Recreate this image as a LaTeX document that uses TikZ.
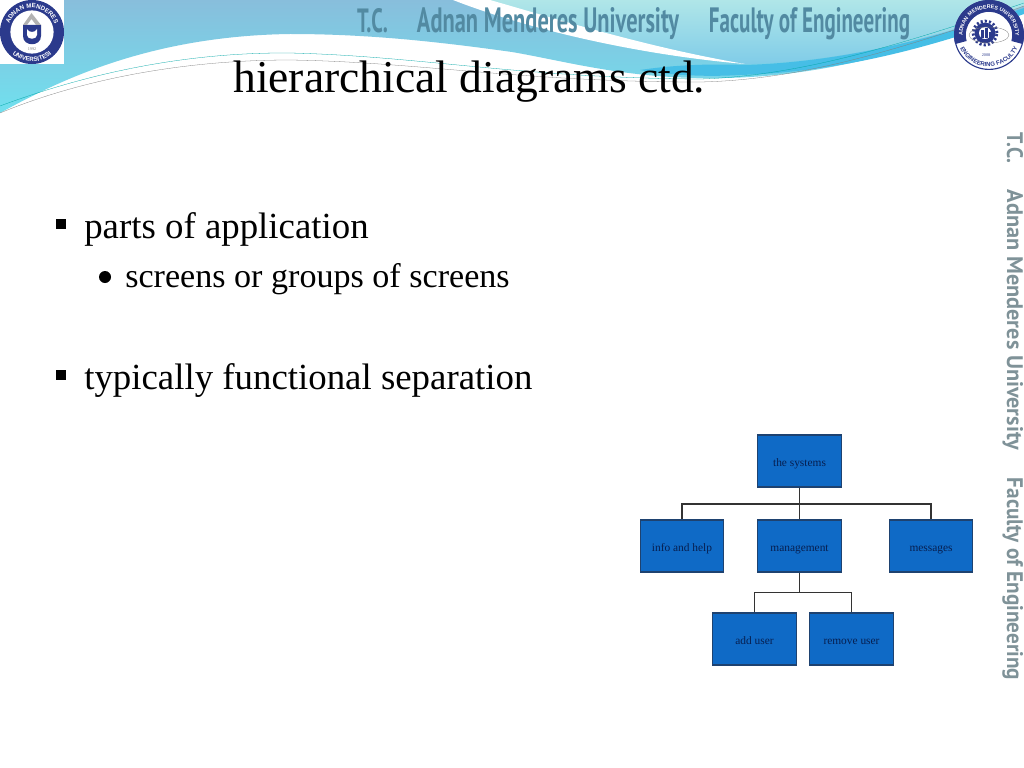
\documentclass[tikz,border=0pt]{standalone}
\usepackage{fontspec}
\setmainfont{Liberation Serif}
\newfontfamily\bannerfont{PT Sans}
\newfontfamily\sealfont{Liberation Sans}
\usetikzlibrary{decorations.text}

\definecolor{boxblue}{HTML}{0F6AC6}
\definecolor{boxedge}{HTML}{1E4270}
\definecolor{boxtext}{HTML}{071F50}
\definecolor{sealblue}{HTML}{2B3A8C}
\definecolor{bannergrey}{HTML}{528AA2}
\definecolor{sidegrey}{HTML}{7F9298}
\definecolor{skytop}{RGB}{136,190,220}
\definecolor{skylow}{RGB}{112,224,238}
\definecolor{palelow}{RGB}{128,204,232}
\definecolor{paletop}{RGB}{176,230,232}
\definecolor{bandblue}{RGB}{70,190,230}

\newlength{\unitpx}
\setlength{\unitpx}{0.7113pt}
\newcommand{\bannertext}[3]{\resizebox{#1\unitpx}{#2\unitpx}{\bannerfont\bfseries #3}}
\newcommand{\sealtext}{\sealfont\bfseries\fontsize{4.4}{5}\selectfont}
\newcommand{\sealsmall}{\sealfont\bfseries\fontsize{3.8}{5}\selectfont}
\newcommand{\sealwide}{\sealfont\bfseries\fontsize{4.3}{5}\selectfont}

\tikzset{
    chartbox/.style={draw=boxedge, thick, fill=boxblue, text=boxtext, minimum width=2.08cm, minimum height=1.3cm, inner sep=0pt, text height=8pt, text depth=0pt, font=\fontsize{8.1}{10}\selectfont},
    chartline/.style={draw=black!80, line width=1pt},
    bodytext/.style={anchor=base west, inner sep=0pt},
    toptext/.style={text=bannergrey, inner sep=0pt, anchor=base},
    sidetext/.style={text=sidegrey, inner sep=0pt, anchor=base, rotate=-90}
}

\begin{document}
\begin{tikzpicture}[x=0.025cm, y=-0.025cm]
    \useasboundingbox (0,0) rectangle (1024,768);
    \fill [white] (0,0) rectangle (1024,768);

    \shade [top color=skytop, bottom color=skylow]
        (0,0) -- (0,113) .. controls (60,80) and (150,36) .. (290,34) .. controls (370,34) and (440,42) .. (512,52) .. controls (570,62) and (630,80) .. (725,78) .. controls (820,76) and (900,55) .. (1024,10) -- (1024,0) -- cycle;
    \shade [top color=paletop, bottom color=palelow]
        (455,0) .. controls (560,30) and (660,56) .. (745,64) .. controls (840,62) and (930,40) .. (1024,6) -- (1024,0) -- cycle;
    \fill [white] (453,0) .. controls (530,30) and (640,55) .. (745,64) .. controls (650,48) and (560,20) .. (490,0) -- cycle;
    \fill [bandblue] (745,65) .. controls (840,62) and (930,40) .. (1024,8) -- (1024,14) .. controls (930,48) and (840,72) .. (740,75) .. controls (690,78) and (650,72) .. (640,70) .. controls (680,64) and (720,64) .. (745,65) -- cycle;
    \draw [teal!70!cyan, very thin] (0,106) .. controls (70,80) and (170,52) .. (290,53) .. controls (420,56) and (520,78) .. (700,79) .. controls (800,76) and (900,45) .. (1024,3);
    \draw [gray, very thin] (0,113) .. controls (70,84) and (170,60) .. (290,60) .. controls (420,62) and (520,82) .. (700,82) .. controls (800,80) and (900,50) .. (1024,6);

    \node [toptext] (tcName) at (372.5,32.5) {\bannertext{31}{24}{T.C.}};
    \node [toptext] (uniName) at (548,32.5) {\bannertext{262}{25}{Adnan Menderes University}};
    \node [toptext] (facName) at (809.5,32.5) {\bannertext{201}{25}{Faculty of Engineering}};

    \node [sidetext] (sideTc) at (1007,148) {\bannertext{30}{16}{T.C.}};
    \node [sidetext] (sideUni) at (1007,320) {\bannertext{260}{16}{Adnan Menderes University}};
    \node [sidetext] (sideFac) at (1007,579) {\bannertext{202}{16}{Faculty of Engineering}};

    \fill [white] (0,0) rectangle (64,64);
    \coordinate (leftSeal) at (32,32);
    \fill [sealblue] (leftSeal) circle (0.8cm);
    \fill [white] (leftSeal) circle (0.54cm);
    \path [decorate, decoration={text along path, text align=center, text color=white, text={|\sealtext|ADNAN MENDERES}}]
        ([shift={(180:0.6cm)}]leftSeal) arc [start angle=180, end angle=0, radius=0.6cm];
    \path [decorate, decoration={text along path, text align=center, text color=white, text={|\sealtext|UNIVERSITESI}}]
        ([shift={(190:0.74cm)}]leftSeal) arc [start angle=190, end angle=350, radius=0.74cm];
    \fill [sealblue] (23,25) -- (41,25) -- (41,36) .. controls (41,47) and (23,47) .. (23,36) -- cycle;
    \fill [white] (27,29) .. controls (29,33) and (35,33) .. (37,29) -- (37,35) .. controls (37,40) and (27,40) .. (27,35) -- cycle;
    \fill [gray!60] (23,25) -- (31.5,13) -- (41,25) -- (36,25) -- (31.5,19) -- (27,25) -- cycle;
    \node [inner sep=0pt, text=gray, font=\fontsize{3}{3}\selectfont] (leftYear) at (32,49) {1992};

    \coordinate (rightSeal) at (989,35);
    \fill [white] (rightSeal) circle (0.875cm);
    \draw [sealblue, thick] (rightSeal) circle (0.86cm);
    \fill [sealblue] ([shift={(195:0.875cm)}]rightSeal) arc [start angle=195, end angle=-15, radius=0.875cm] -- ([shift={(-15:0.58cm)}]rightSeal) arc [start angle=-15, end angle=195, radius=0.58cm] -- cycle;
    \path [decorate, decoration={text along path, text align=center, text color=white, text={|\sealsmall|ADNAN MENDERES UNIVERSITY}}]
        ([shift={(195:0.66cm)}]rightSeal) arc [start angle=195, end angle=-15, radius=0.66cm];
    \path [decorate, decoration={text along path, text align=center, text color=sealblue, text={|\sealwide|ENGINEERING FACULTY}}]
        ([shift={(188:0.79cm)}]rightSeal) arc [start angle=188, end angle=352, radius=0.79cm];
    \coordinate (gearMid) at (985,33);
    \draw [sealblue, line width=2pt, dash pattern=on 1.5pt off 1.5pt] (gearMid) circle (0.3cm);
    \fill [sealblue] (gearMid) circle (0.26cm);
    \fill [white] (gearMid) circle (0.15cm);
    \fill [sealblue] (981,38) rectangle (984,30);
    \fill [sealblue] (985,38) rectangle (988,28);
    \fill [sealblue] (989,38) rectangle (991,32);
    \draw [gray, very thin] (rightSeal) ellipse (0.5cm and 0.2cm);
    \node [inner sep=0pt, text=sealblue, font=\fontsize{3}{3}\selectfont] (rightYear) at (986,55) {2008};

    \node [bodytext, font=\fontsize{32.4}{36}\selectfont] (title) at (233,93) {hierarchical diagrams ctd.};

    \fill (56,219) rectangle (66,229);
    \node [bodytext, font=\fontsize{26.2}{30}\selectfont] (partsLine) at (84,238) {parts of application};
    \fill (105,277) circle (0.15cm);
    \node [bodytext, font=\fontsize{24.25}{28}\selectfont] (screensLine) at (125,287) {screens or groups of screens};
    \fill (56,370) rectangle (66,380);
    \node [bodytext, font=\fontsize{26.2}{30}\selectfont] (typicalLine) at (84,389) {typically functional separation};

    \node [chartbox] (systems) at (799.5,461) {the systems};
    \node [chartbox] (info) at (682,546) {info and help};
    \node [chartbox] (management) at (799.5,546) {management};
    \node [chartbox] (messages) at (931,546) {messages};
    \node [chartbox] (adduser) at (754.5,639) {add user};
    \node [chartbox] (removeuser) at (851.5,639) {remove user};

    \coordinate (busTop) at (799.5,504);
    \coordinate (busLow) at (799.5,592.5);
    \draw [chartline] (systems.south) -- (management.north);
    \draw [chartline] (info.north) |- (busTop) -| (messages.north);
    \draw [chartline] (management.south) -- (busLow);
    \draw [chartline] (adduser.north) |- (busLow) -| (removeuser.north);
\end{tikzpicture}
\end{document}
